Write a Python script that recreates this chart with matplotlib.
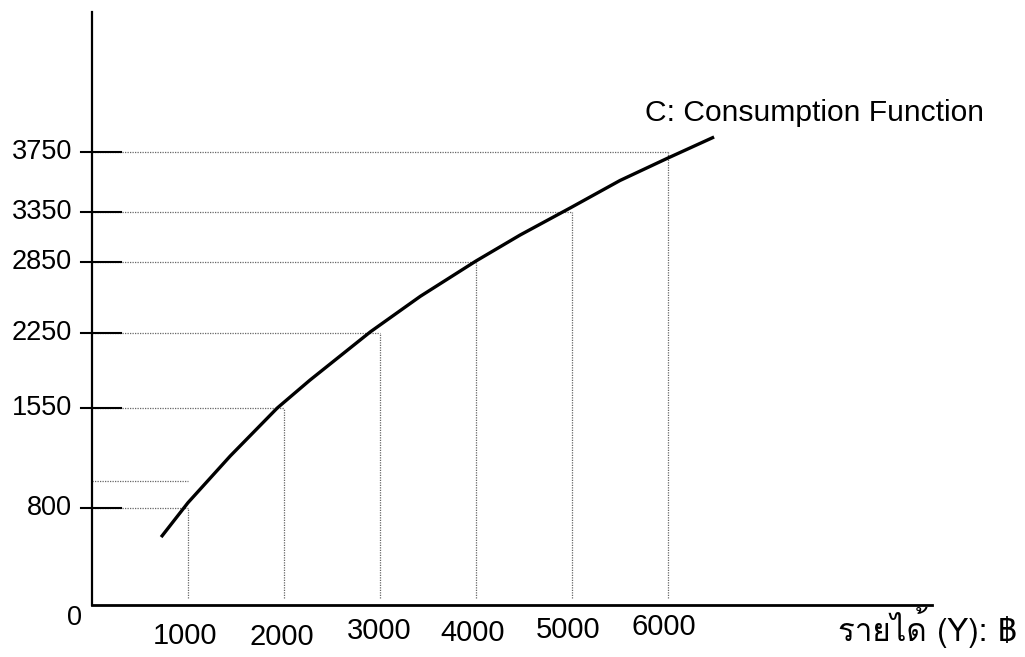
import numpy as np
import matplotlib
matplotlib.use('Agg')
import matplotlib.pyplot as plt
from matplotlib import font_manager
from matplotlib.ft2font import FT2Font

# Data
y_ticks = [0, 800, 1550, 2250, 2850, 3350, 3750]
x_ticks = [1000, 2000, 3000, 4000, 5000, 6000]
x_labels = ['1000', '2000', '3000', '4000', '5000', '6000']
guide_x = [1000, 2000, 3000, 4000, 5000, 6000]
guide_y = [800, 1550, 2250, 2850, 3350, 3750]
extra_guide = (1000, 1000)  # stray dotted line near C=1000

# Consumption curve (income, consumption)
curve_x = [720, 1000, 1440, 1930, 2270, 2900, 3420, 4000, 4460, 4990, 5500, 6000, 6480]
curve_y = [560, 840, 1190, 1550, 1810, 2260, 2560, 2860, 3120, 3380, 3560, 3710, 3850]

# The y axis of the drawing is not evenly spaced: map values to drawn heights
knot_vals = np.array([-1000, 0, 800, 1550, 2250, 2850, 3350, 3750, 10000], dtype=float)
knot_pos = np.array([-121.25, 0, 97, 197, 272, 343, 393, 453, 1390.5])


def fwd(v):
    return np.interp(v, knot_vals, knot_pos)


def inv(p):
    return np.interp(p, knot_pos, knot_vals)


def find_thai_font():
    for f in font_manager.fontManager.ttflist:
        try:
            if FT2Font(f.fname).get_char_index(0x0E23):
                return f.name
        except Exception:
            pass
    return 'DejaVu Sans'


thai_font = find_thai_font()
plt.rcParams['font.family'] = ['Liberation Sans', 'DejaVu Sans']

fig = plt.figure(figsize=(10.25, 6.57), dpi=100)
ax = fig.add_axes([92 / 1025, 52 / 657, 840 / 1025, 593 / 657])
ax.set_yscale('function', functions=(fwd, inv))
ax.set_xlim(0, 8750)
ax.set_ylim(0, inv(593))

for side in ['top', 'right']:
    ax.spines[side].set_visible(False)
ax.spines['left'].set_linewidth(1.6)
ax.spines['bottom'].set_linewidth(2)
ax.set_xticks([])
ax.set_yticks([])
ax.yaxis.set_minor_locator(matplotlib.ticker.NullLocator())

# dotted guide lines
dot = dict(color='#666666', linewidth=0.9, linestyle=(0, (1, 1)))
for gx, gy in zip(guide_x, guide_y):
    ax.plot([0, gx], [gy, gy], **dot)
    ax.plot([gx, gx], [60, gy], **dot)
ax.plot([0, extra_guide[0]], [extra_guide[1], extra_guide[1]], **dot)

# consumption curve
ax.plot(curve_x, curve_y, color='black', linewidth=2.4,
        solid_capstyle='butt', solid_joinstyle='round')

# y tick marks crossing the axis, and their labels
ytr = ax.get_yaxis_transform()
for v in y_ticks[1:]:
    ax.plot([-0.013, 0.034], [v, v], color='black', linewidth=1.5,
            transform=ytr, clip_on=False)
    ax.annotate(str(v), xy=(0, v), xycoords=ytr, xytext=(-20 * 0.72, 0),
                textcoords='offset points', ha='right', va='center', fontsize=19.5)
ax.annotate('0', xy=(0, 0), xycoords=ytr, xytext=(-17 * 0.72, -13 * 0.72),
            textcoords='offset points', ha='center', va='center', fontsize=19.5)

# x labels, slightly staggered as in the drawing
xtr = ax.get_xaxis_transform()
x_label_dy = [-31, -32, -26, -28, -25, -22]
x_label_dx = [-3, -2, -1, -3, -4, -4]
for xv, lab, dx, dy in zip(x_ticks, x_labels, x_label_dx, x_label_dy):
    ax.annotate(lab, xy=(xv, 0), xycoords=xtr, xytext=(dx * 0.72, dy * 0.72),
                textcoords='offset points', ha='center', va='center', fontsize=21)

ax.text(5760, 4010, 'C: Consumption Function', ha='left', va='center', fontsize=21.6)

fig.text(1017 / 1025, 1 - 641 / 657, 'รายได้ (Y): ฿', ha='right', va='baseline',
         fontsize=22.5, family=[thai_font, 'Liberation Sans', 'DejaVu Sans'])

fig.savefig('out.png', dpi=100)
